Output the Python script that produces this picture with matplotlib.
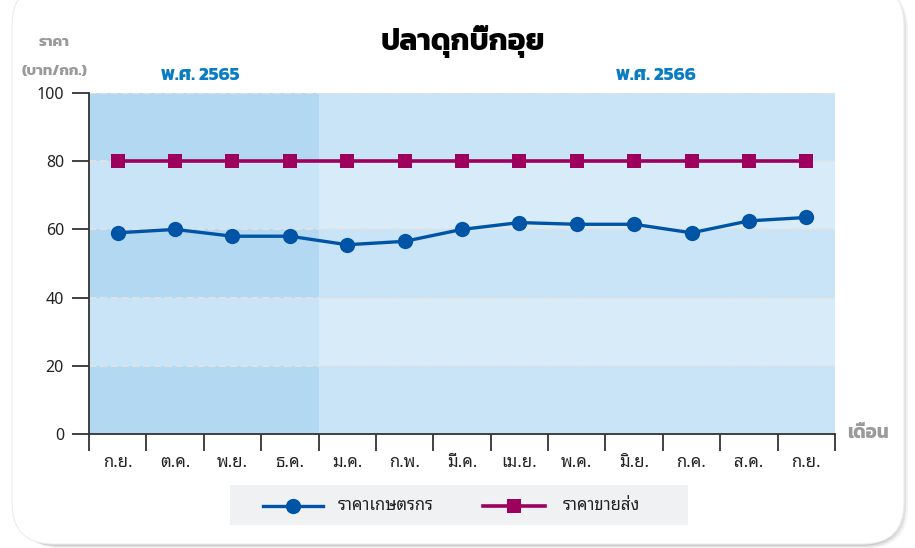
import matplotlib
matplotlib.use("Agg")
import matplotlib.pyplot as plt
from matplotlib.patches import FancyBboxPatch, Rectangle
from matplotlib.lines import Line2D
import numpy as np

# ข้อมูล
months = ["ก.ย.", "ต.ค.", "พ.ย.", "ธ.ค.", "ม.ค.", "ก.พ.", "มี.ค.", "เม.ย.",
          "พ.ค.", "มิ.ย.", "ก.ค.", "ส.ค.", "ก.ย."]
farm_price = [59, 60, 58, 58, 55.5, 56.5, 60, 62, 61.5, 61.5, 59, 62.5, 63.5]
wholesale_price = [80, 80, 80, 80, 80, 80, 80, 80, 80, 80, 80, 80, 80]
series_names = ["ราคาเกษตรกร", "ราคาขายส่ง"]
years = ["พ.ศ. 2565", "พ.ศ. 2566"]
n_first_year = 4
yticks = [0, 20, 40, 60, 80, 100]

LOOP = ["Noto Sans Thai Looped", "DejaVu Sans"]
BOLD = ["Kanit", "DejaVu Sans"]
blue = "#0054a6"
magenta = "#9e005d"

W, H = 915, 548
fig = plt.figure(figsize=(W / 100, H / 100), dpi=100)
fig.patch.set_facecolor("white")

def fx(px):
    return px / W

def fy(py):
    return 1 - py / H

# การ์ดพื้นหลังพร้อมเงา
for off, a in [(7, 0.10), (5, 0.18), (3, 0.25)]:
    sh = FancyBboxPatch((fx(13 + off), fy(544 + off * 0.6)), fx(890 - 2), fy(0) - fy(560),
                        boxstyle="round,pad=0,rounding_size=0.045",
                        transform=fig.transFigure, facecolor="#8a8a8a", edgecolor="none",
                        alpha=a, mutation_aspect=W / H, zorder=0)
    fig.add_artist(sh)
card = FancyBboxPatch((fx(12), fy(544)), fx(892), fy(0) - fy(560),
                      boxstyle="round,pad=0,rounding_size=0.045",
                      transform=fig.transFigure, facecolor="white", edgecolor="#ececec",
                      linewidth=0.8, mutation_aspect=W / H, zorder=0.5)
fig.add_artist(card)

ax = fig.add_axes([fx(89), fy(434), fx(835) - fx(89), fy(93) - fy(434)])
ax.set_zorder(2)
ax.patch.set_alpha(0)

x = np.arange(len(months))
x0, x1 = -0.5, len(months) - 0.5
xs = n_first_year - 0.5
ax.set_xlim(x0, x1)
ax.set_ylim(0, 100)

# แถบสีพื้นหลัง
dark_l, light_l = "#b3d9f2", "#c8e4f6"
dark_r, light_r = "#c8e4f6", "#d7ebf8"
for i in range(len(yticks) - 1):
    lo, hi = yticks[i], yticks[i + 1]
    even = i % 2 == 0
    ax.fill_between([x0, xs], lo, hi, color=dark_l if even else light_l, lw=0, zorder=0)
    ax.fill_between([xs, x1], lo, hi, color=dark_r if even else light_r, lw=0, zorder=0)
for yv in yticks[1:]:
    ax.axhline(yv, color="#e2e2e2", lw=1.3, ls=(0, (4, 2)), zorder=1)

ax.plot(x, wholesale_price, color=magenta, lw=2.6, marker="s", ms=10.5,
        markeredgewidth=0, zorder=3)
ax.plot(x, farm_price, color=blue, lw=2.4, marker="o", ms=11,
        markeredgewidth=0, zorder=4)

for s in ["top", "right"]:
    ax.spines[s].set_visible(False)
for s in ["left", "bottom"]:
    ax.spines[s].set_color("#333333")
    ax.spines[s].set_linewidth(1.3)

ax.set_yticks(yticks)
ax.set_yticklabels([str(v) for v in yticks], fontsize=11.5, family=LOOP, color="#222222")
ax.tick_params(axis="y", length=12, width=1.3, color="#333333", pad=6)

ax.set_xticks(np.arange(x0, x1 + 0.01, 1))
ax.set_xticklabels([])
ax.tick_params(axis="x", which="major", length=12, width=1.3, color="#333333")
ax.set_xticks(x, minor=True)
ax.set_xticklabels(months, minor=True, fontsize=12, family=LOOP, color="#222222")
ax.tick_params(axis="x", which="minor", length=0, pad=15)

# ข้อความ
fig.text(fx(463), fy(42), "ปลาดุกบิ๊กอุย", ha="center", va="center",
         fontsize=21.5, fontweight="bold", family=BOLD, color="black")
fig.text(fx(54), fy(43), "ราคา", ha="center", va="center", fontsize=11,
         fontweight="bold", family=BOLD, color="#9a9a9a")
fig.text(fx(55), fy(71), "(บาท/กก.)", ha="center", va="center", fontsize=10.8,
         fontweight="bold", family=BOLD, color="#9a9a9a")
fig.text(fx(200), fy(75), years[0], ha="center", va="center", fontsize=13.5,
         fontweight="bold", family=BOLD, color="#0a7cc4")
fig.text(fx(656), fy(75), years[1], ha="center", va="center", fontsize=13.5,
         fontweight="bold", family=BOLD, color="#0a7cc4")
fig.text(fx(868), fy(433), "เดือน", ha="center", va="center", fontsize=13.5,
         fontweight="bold", family=BOLD, color="#9a9a9a")

# คำอธิบายสัญลักษณ์
fig.add_artist(Rectangle((fx(230), fy(525)), fx(688) - fx(230), fy(485) - fy(525),
                         transform=fig.transFigure, facecolor="#f0f1f3",
                         edgecolor="none", zorder=1))
ly = fy(506)
fig.add_artist(Line2D([fx(263), fx(323)], [ly, ly], color=blue, lw=2.4,
                      transform=fig.transFigure, zorder=2))
fig.add_artist(Line2D([fx(293)], [ly], color=blue, marker="o", ms=11, mew=0,
                      transform=fig.transFigure, zorder=3))
fig.text(fx(338), ly, series_names[0], ha="left", va="center", fontsize=12,
         family=LOOP, color="#222222")
fig.add_artist(Line2D([fx(483), fx(545)], [ly, ly], color=magenta, lw=2.6,
                      transform=fig.transFigure, zorder=2))
fig.add_artist(Line2D([fx(514)], [ly], color=magenta, marker="s", ms=10.5, mew=0,
                      transform=fig.transFigure, zorder=3))
fig.text(fx(563), ly, series_names[1], ha="left", va="center", fontsize=12,
         family=LOOP, color="#222222")

fig.savefig("out.png", dpi=100)
